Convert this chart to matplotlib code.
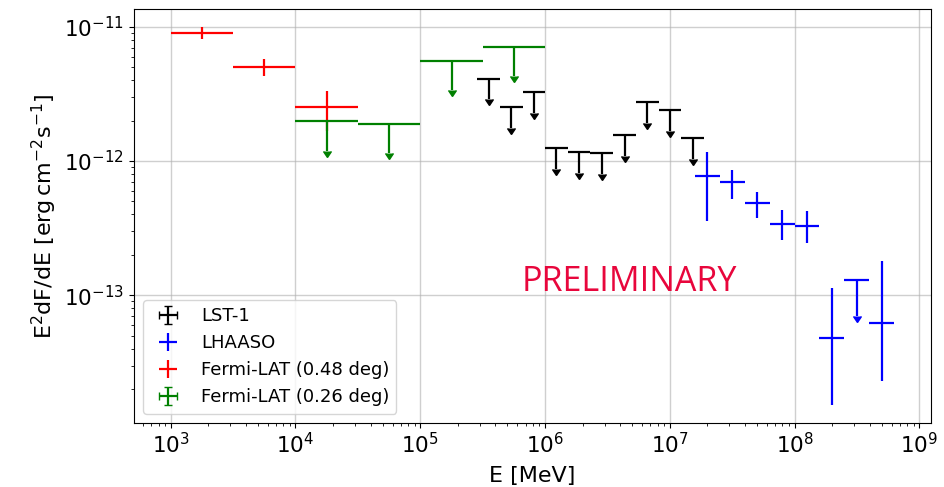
import matplotlib
matplotlib.use("Agg")
import numpy as np
import matplotlib.pyplot as plt

# LST-1 upper limits (E in MeV, E^2 dF/dE in erg cm^-2 s^-1)
lst_edges = [2.86e5, 4.36e5, 6.62e5, 1.0e6, 1.52e6, 2.31e6, 3.52e6, 5.36e6, 8.15e6, 1.24e7, 1.88e7]
lst_e = [3.53e5, 5.37e5, 8.14e5, 1.23e6, 1.87e6, 2.85e6, 4.34e6, 6.61e6, 1.0e7, 1.53e7]
lst_ul = [4.08e-12, 2.53e-12, 3.27e-12, 1.24e-12, 1.17e-12, 1.14e-12, 1.56e-12, 2.75e-12, 2.40e-12, 1.49e-12]
lst_arrow = [1.2e-12, 0.76e-12, 0.98e-12, 0.37e-12, 0.35e-12, 0.34e-12, 0.47e-12, 0.82e-12, 0.72e-12, 0.45e-12]

# LHAASO points
lhaaso_e = [2.0e7, 3.16e7, 5.01e7, 7.94e7, 1.26e8, 2.0e8, 5.01e8]
lhaaso_lo = [1.58e7, 2.51e7, 3.98e7, 6.31e7, 1.0e8, 1.58e8, 3.98e8]
lhaaso_hi = [2.51e7, 3.98e7, 6.31e7, 1.0e8, 1.58e8, 2.51e8, 6.31e8]
lhaaso_f = [7.73e-13, 6.94e-13, 4.84e-13, 3.40e-13, 3.28e-13, 4.81e-14, 6.25e-14]
lhaaso_up = [3.97e-13, 1.63e-13, 1.06e-13, 0.92e-13, 0.97e-13, 6.6e-14, 11.75e-14]
lhaaso_dn = [4.14e-13, 1.70e-13, 1.06e-13, 0.82e-13, 0.84e-13, 3.29e-14, 3.94e-14]
# LHAASO upper limit
lhaaso_ul_e = [3.16e8]
lhaaso_ul_lo = [2.51e8]
lhaaso_ul_hi = [3.98e8]
lhaaso_ul = [1.3e-13]
lhaaso_ul_arrow = [0.6e-13]

# Fermi-LAT (0.48 deg)
fermi48_e = [1.78e3, 5.62e3, 1.78e4]
fermi48_lo = [1.0e3, 3.16e3, 1.0e4]
fermi48_hi = [3.16e3, 1.0e4, 3.16e4]
fermi48_f = [9.02e-12, 5.04e-12, 2.51e-12]
fermi48_err = [0.86e-12, 0.72e-12, 0.83e-12]

# Fermi-LAT (0.26 deg) upper limits
fermi26_e = [1.78e4, 5.62e4, 1.78e5, 5.62e5]
fermi26_lo = [1.0e4, 3.16e4, 1.0e5, 3.16e5]
fermi26_hi = [3.16e4, 1.0e5, 3.16e5, 1.0e6]
fermi26_ul = [1.99e-12, 1.90e-12, 5.58e-12, 7.10e-12]
fermi26_arrow = [0.8e-12, 0.76e-12, 2.2e-12, 2.8e-12]


def xerr_from(e, lo, hi):
    e = np.array(e)
    return [e - np.array(lo), np.array(hi) - e]


def paint_caps(container, color):
    # arrow heads of upper limits come out in the default colour otherwise
    for cap in container[1]:
        cap.set_color(color)
        cap.set_markerfacecolor(color)
        cap.set_markeredgecolor(color)


fig = plt.figure(figsize=(9.45, 4.87), dpi=100)
ax = fig.add_axes([0.1418, 0.132, 0.8434, 0.8495])

lw = 1.6
lst_lo = lst_edges[:-1]
lst_hi = lst_edges[1:]
c = ax.errorbar(lst_e, lst_ul, xerr=xerr_from(lst_e, lst_lo, lst_hi), yerr=lst_arrow,
                uplims=True, fmt="none", ecolor="black", elinewidth=lw, label="LST-1")
paint_caps(c, "black")
ax.errorbar(lhaaso_e, lhaaso_f, xerr=xerr_from(lhaaso_e, lhaaso_lo, lhaaso_hi),
            yerr=[lhaaso_dn, lhaaso_up], fmt="none", ecolor="blue", elinewidth=lw, label="LHAASO")
c = ax.errorbar(lhaaso_ul_e, lhaaso_ul, xerr=xerr_from(lhaaso_ul_e, lhaaso_ul_lo, lhaaso_ul_hi),
                yerr=lhaaso_ul_arrow, uplims=True, fmt="none", ecolor="blue", elinewidth=lw)
paint_caps(c, "blue")
ax.errorbar(fermi48_e, fermi48_f, xerr=xerr_from(fermi48_e, fermi48_lo, fermi48_hi),
            yerr=fermi48_err, fmt="none", ecolor="red", elinewidth=lw, label="Fermi-LAT (0.48 deg)")
c = ax.errorbar(fermi26_e, fermi26_ul, xerr=xerr_from(fermi26_e, fermi26_lo, fermi26_hi),
                yerr=fermi26_arrow, uplims=True, fmt="none", ecolor="green", elinewidth=lw,
                label="Fermi-LAT (0.26 deg)")
paint_caps(c, "green")

ax.set_xscale("log")
ax.set_yscale("log")
ax.set_xlim(508, 1.24e9)
ax.set_ylim(1.125e-14, 1.355e-11)
ax.grid(True, which="major", color="#b0b0b0", alpha=0.6, lw=1)
ax.tick_params(labelsize=15.5)
ax.set_xlabel("E [MeV]", fontsize=16, labelpad=6)
ax.set_ylabel(r"E$^2$dF/dE [$\mathrm{erg\,cm^{-2}s^{-1}}$]", fontsize=16)

ax.text(0.621, 0.34, "PRELIMINARY", transform=ax.transAxes, ha="center", va="center",
        fontsize=24.5, color="#e8063c", family="Open Sans")

ax.legend(loc="lower left", fontsize=13)

fig.savefig("out.png", dpi=100)
